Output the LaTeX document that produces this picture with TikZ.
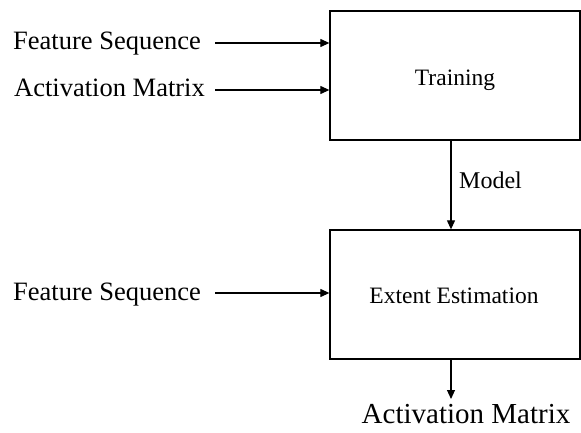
\documentclass[tikz,border=0pt]{standalone}
\usepackage{fontspec}
\setmainfont{Liberation Serif}
\usetikzlibrary{arrows.meta}
\begin{document}
\begin{tikzpicture}[x=1pt,y=-1pt,
  block/.style={draw=black,line width=1.3pt,minimum width=250pt,minimum height=129pt,inner sep=0pt},
  flow/.style={line width=1.1pt,-{Triangle[length=9pt,width=8pt]}},
  inlabel/.style={anchor=base west,inner sep=0pt,font=\fontsize{26.5}{30}\selectfont},
  boxtext/.style={anchor=base,inner sep=0pt,font=\fontsize{23.5}{28}\selectfont}]
\useasboundingbox (0,0) rectangle (581,433);

% processing blocks
\node[block] (train) at (455,75.5) {};
\node[block] (ext) at (455,294.5) {};
\node[boxtext] (traintxt) at (455,86) {Training};
\node[boxtext] (exttxt) at (454,303) {Extent Estimation};

% inputs on the left
\node[inlabel] (fs1) at (13,50) {Feature Sequence};
\node[inlabel] (am1) at (14,97) {Activation Matrix};
\node[inlabel] (fs2) at (13,300) {Feature Sequence};
\coordinate (in1) at (215,43);
\coordinate (in2) at (215,90);
\coordinate (in3) at (215,293);
\draw[flow] (in1) -- (train.west |- in1);
\draw[flow] (in2) -- (train.west |- in2);
\draw[flow] (in3) -- (ext.west |- in3);

% model handed from training to estimation
\coordinate (mtop) at (451,140);
\draw[flow] (mtop) -- (ext.north -| mtop);
\node[anchor=base west,inner sep=0pt,font=\fontsize{24}{28}\selectfont] (model) at (459,188) {Model};

% output
\coordinate (outtop) at (451,359);
\coordinate (outend) at (451,399);
\draw[flow] (outtop) -- (outend);
\node[anchor=base,inner sep=0pt,font=\fontsize{29}{33}\selectfont] (am2) at (466,423) {Activation Matrix};
\end{tikzpicture}
\end{document}
